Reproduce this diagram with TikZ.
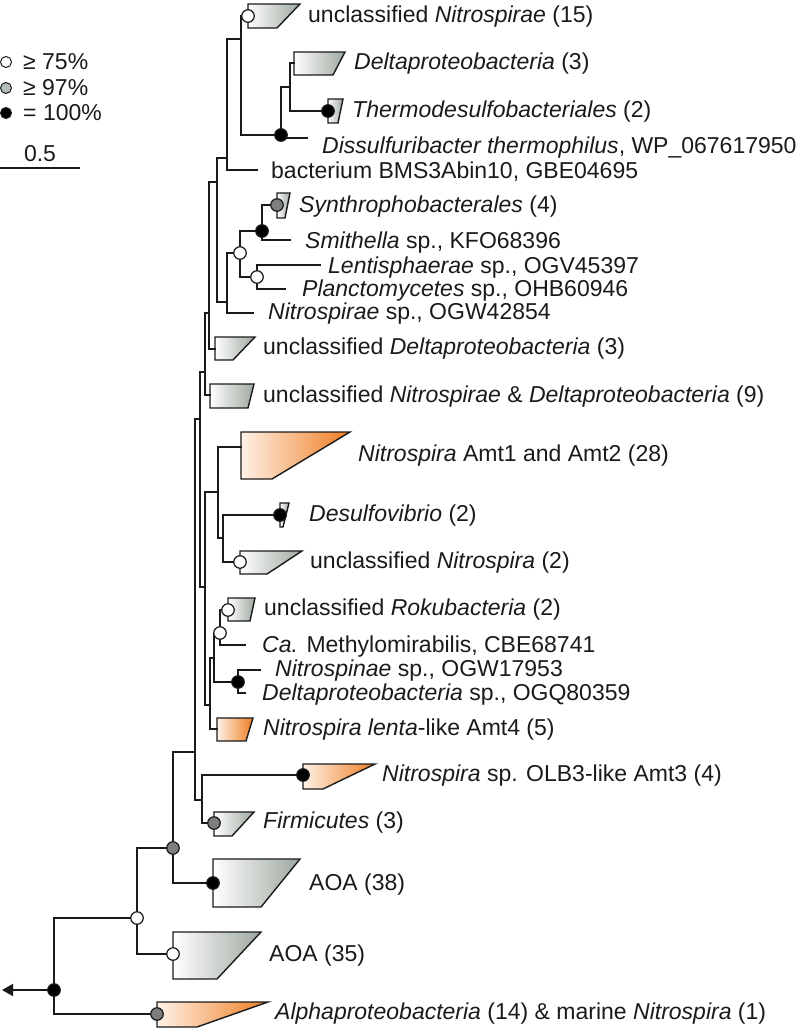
\documentclass[tikz,border=0pt]{standalone}
\usepackage{fontspec}
\setmainfont{Liberation Sans}
\usetikzlibrary{arrows.meta}
\definecolor{lnc}{HTML}{1A1A1A}
\definecolor{gwr}{HTML}{9EA89F}
\definecolor{owl}{HTML}{FFF1E6}
\definecolor{owr}{HTML}{EE7D22}
\definecolor{gcirc}{HTML}{7E7E7E}
\definecolor{glegc}{HTML}{B4BCBC}
\newcommand\myclade[6]{\draw[#6] (#1,#2) -- (#4,#2) -- (#5,#3) -- (#1,#3) -- cycle;}
\begin{document}
\begin{tikzpicture}[x=1pt,y=-1pt,
  br/.style={draw=lnc,line width=1.5pt,line cap=rect},
  wg/.style={draw=lnc,line width=1.4pt,left color=white,right color=gwr},
  wo/.style={draw=lnc,line width=1.4pt,left color=owl,right color=owr},
  bsw/.style={circle,draw=lnc,line width=1.2pt,fill=white,minimum size=12.5pt,inner sep=0pt},
  bsg/.style={bsw,fill=gcirc},
  bsb/.style={bsw,fill=black},
  lab/.style={anchor=west,inner sep=0pt,text=lnc,font=\fontsize{23}{27}\selectfont},
  leg/.style={circle,draw=lnc,line width=1pt,minimum size=11pt,inner sep=0pt}]
\useasboundingbox (0,0) rectangle (799,1028);
% ---------- coordinates ----------
\coordinate (R) at (54,990);
\coordinate (tip) at (2,990);
\coordinate (A) at (137,918);
\coordinate (alpha) at (157,1014);
\coordinate (B) at (173,848);
\coordinate (aoa35) at (173,954);
\coordinate (C) at (195,752);
\coordinate (aoa38) at (213,883);
\coordinate (D) at (202,800);
\coordinate (amt3) at (303,775);
\coordinate (firm) at (214,823);
\coordinate (E) at (200,419);
\coordinate (F) at (205,372);
\coordinate (G) at (205,587);
\coordinate (H) at (209,313);
\coordinate (uncND) at (210,395);
\coordinate (I) at (217,182);
\coordinate (uncD) at (215,349);
\coordinate (J) at (227,158);
\coordinate (K) at (227,302);
\coordinate (Top) at (241,39);
\coordinate (bms) at (257,170);
\coordinate (n15) at (248,16);
\coordinate (Ds) at (281,135);
\coordinate (Dt) at (290,87);
\coordinate (diss) at (307,138);
\coordinate (delta3) at (294,63);
\coordinate (thermo) at (328,111);
\coordinate (S) at (240,253);
\coordinate (nsp) at (253,313);
\coordinate (Sm) at (262,231);
\coordinate (LP) at (257,277);
\coordinate (syn) at (277,205);
\coordinate (smi) at (290,240);
\coordinate (len) at (320,265);
\coordinate (pla) at (285,289);
\coordinate (M) at (218,492);
\coordinate (N) at (210,705);
\coordinate (amt12) at (241,447);
\coordinate (O) at (223,538);
\coordinate (desul) at (280,515);
\coordinate (unN) at (240,562);
\coordinate (P) at (214,658);
\coordinate (lenta) at (217,729);
\coordinate (Q) at (220,633);
\coordinate (Bk) at (238,682);
\coordinate (roku) at (228,610);
\coordinate (cam) at (245,645);
\coordinate (nspn) at (260,670);
\coordinate (dsp) at (245,693);
% ---------- wedges ----------
\myclade{248}{4}{28}{300}{277}{wg}
\myclade{294}{52}{75}{345}{333}{wg}
\myclade{328}{99}{123}{343}{338}{wg}
\myclade{277}{193}{218}{290}{285}{wg}
\myclade{215}{337}{360}{255}{233}{wg}
\myclade{210}{384}{408}{254}{248}{wg}
\myclade{241}{432}{479}{350}{272}{wo}
\myclade{280}{503}{527}{289}{283}{wg}
\myclade{240}{551}{574}{302}{267}{wg}
\myclade{228}{598}{621}{255}{250}{wg}
\myclade{217}{718}{741}{253}{246}{wo}
\myclade{303}{764}{789}{375}{323}{wo}
\myclade{214}{812}{836}{254}{232}{wg}
\myclade{213}{859}{907}{300}{261}{wg}
\myclade{173}{932}{979}{261}{217}{wg}
\myclade{157}{1002}{1027}{268}{197}{wo}
% ---------- branches ----------
\draw[br,-{Triangle[length=11pt,width=12pt]}] (R) -- (tip);
\draw[br] (R) |- (A);
\draw[br] (R) |- (alpha);
\draw[br] (A) |- (B);
\draw[br] (A) |- (aoa35);
\draw[br] (B) |- (C);
\draw[br] (B) |- (aoa38);
\draw[br] (C) |- (D);
\draw[br] (C) |- (E);
\draw[br] (D) |- (amt3);
\draw[br] (D) |- (firm);
\draw[br] (E) |- (F);
\draw[br] (E) |- (G);
\draw[br] (F) |- (H);
\draw[br] (F) |- (uncND);
\draw[br] (H) |- (I);
\draw[br] (H) |- (uncD);
\draw[br] (I) |- (J);
\draw[br] (I) |- (K);
\draw[br] (J) |- (Top);
\draw[br] (J) |- (bms);
\draw[br] (Top) |- (n15);
\draw[br] (Top) |- (Ds);
\draw[br] (Ds) |- (Dt);
\draw[br] (Ds) |- (diss);
\draw[br] (Dt) |- (delta3);
\draw[br] (Dt) |- (thermo);
\draw[br] (K) |- (S);
\draw[br] (K) |- (nsp);
\draw[br] (S) |- (Sm);
\draw[br] (S) |- (LP);
\draw[br] (Sm) |- (syn);
\draw[br] (Sm) |- (smi);
\draw[br] (LP) |- (len);
\draw[br] (LP) |- (pla);
\draw[br] (G) |- (M);
\draw[br] (G) |- (N);
\draw[br] (M) |- (amt12);
\draw[br] (M) |- (O);
\draw[br] (O) |- (desul);
\draw[br] (O) |- (unN);
\draw[br] (N) |- (P);
\draw[br] (N) |- (lenta);
\draw[br] (P) |- (Q);
\draw[br] (P) |- (Bk);
\draw[br] (Q) |- (roku);
\draw[br] (Q) |- (cam);
\draw[br] (Bk) |- (nspn);
\draw[br] (Bk) |- (dsp);
% ---------- support circles ----------
\node[bsw] (c1) at (n15) {};
\node[bsb] (c2) at (Ds) {};
\node[bsb] (c3) at (thermo) {};
\node[bsg] (c4) at (syn) {};
\node[bsb] (c5) at (Sm) {};
\node[bsw] (c6) at (S) {};
\node[bsw] (c7) at (LP) {};
\node[bsb] (c8) at (desul) {};
\node[bsw] (c9) at (unN) {};
\node[bsw] (c10) at (roku) {};
\node[bsw] (c11) at (Q) {};
\node[bsb] (c12) at (Bk) {};
\node[bsb] (c13) at (amt3) {};
\node[bsg] (c14) at (firm) {};
\node[bsg] (c15) at (B) {};
\node[bsb] (c16) at (aoa38) {};
\node[bsw] (c17) at (A) {};
\node[bsw] (c18) at (aoa35) {};
\node[bsb] (c19) at (R) {};
\node[bsg] (c20) at (alpha) {};
% ---------- labels ----------
\node[lab] (t1) at (308,17) {unclassified \textit{Nitrospirae} (15)};
\node[lab] (t2) at (354,64) {\textit{Deltaproteobacteria} (3)};
\node[lab] (t3) at (352,112) {\textit{Thermodesulfobacteriales} (2)};
\node[lab] (t4) at (322,148) {\textit{Dissulfuribacter thermophilus}, WP\_067617950};
\node[lab] (t5) at (271,172) {bacterium BMS3Abin10, GBE04695};
\node[lab] (t6) at (299,207) {\textit{Synthrophobacterales} (4)};
\node[lab] (t7) at (305,243) {\textit{Smithella} sp., KFO68396};
\node[lab] (t8) at (328,268) {\textit{Lentisphaerae} sp., OGV45397};
\node[lab] (t9) at (302,291) {\textit{Planctomycetes} sp., OHB60946};
\node[lab] (t10) at (268,314) {\textit{Nitrospirae} sp., OGW42854};
\node[lab] (t11) at (263,349) {unclassified \textit{Deltaproteobacteria} (3)};
\node[lab] (t12) at (263,397) {unclassified \textit{Nitrospirae} \& \textit{Deltaproteobacteria} (9)};
\node[lab] (t13) at (358,456) {\textit{Nitrospira} Amt1 and Amt2 (28)};
\node[lab] (t14) at (309,516) {\textit{Desulfovibrio} (2)};
\node[lab] (t15) at (310,563) {unclassified \textit{Nitrospira} (2)};
\node[lab] (t16) at (264,610) {unclassified \textit{Rokubacteria} (2)};
\node[lab] (t17) at (262,647) {\textit{Ca.} Methylomirabilis, CBE68741};
\node[lab] (t18) at (275,671) {\textit{Nitrospinae} sp., OGW17953};
\node[lab] (t19) at (262,695) {\textit{Deltaproteobacteria} sp., OGQ80359};
\node[lab] (t20) at (263,730) {\textit{Nitrospira lenta}-like Amt4 (5)};
\node[lab] (t21) at (382,776) {\textit{Nitrospira} sp. OLB3-like Amt3 (4)};
\node[lab] (t22) at (263,823) {\textit{Firmicutes} (3)};
\node[lab] (t23) at (309,885) {AOA (38)};
\node[lab] (t24) at (269,956) {AOA (35)};
\node[lab] (t25) at (275,1014) {\textit{Alphaproteobacteria} (14) \& marine \textit{Nitrospira} (1)};
% ---------- legend ----------
\node[leg,fill=white] (l1) at (6,62) {};
\node[leg,fill=glegc] (l2) at (6,88) {};
\node[leg,fill=black] (l3) at (6,113) {};
\node[lab] (lt1) at (23,62) {≥ 75\%};
\node[lab] (lt2) at (23,88) {≥ 97\%};
\node[lab] (lt3) at (23,113) {= 100\%};
\coordinate (s1) at (0,168);
\coordinate (s2) at (80,168);
\draw[br,line cap=butt] (s1) -- (s2);
\node[anchor=center,inner sep=0pt,text=lnc,font=\fontsize{23}{27}\selectfont] (sl) at (40,154) {0.5};
\end{tikzpicture}
\end{document}
